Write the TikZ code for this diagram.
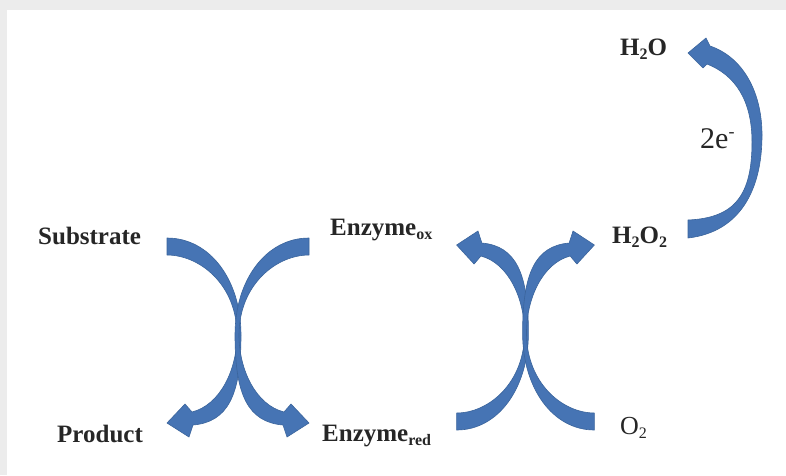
\documentclass[tikz,border=0pt]{standalone}
\usepackage{fontspec}
\setmainfont{Liberation Serif}
\definecolor{arrowblue}{RGB}{70,116,180}
\definecolor{arrowedge}{RGB}{58,100,156}
\definecolor{txt}{RGB}{38,38,38}
\definecolor{frame}{RGB}{236,236,236}
\newcommand{\lsub}[1]{\raisebox{-4pt}{\fontsize{16}{18}\selectfont #1}}
\newcommand{\bandApath}{(-71,-97) .. controls (-28,-97) and (3,-55) .. (3,0)
  .. controls (3,60) and (-10,87) .. (-45,90) -- (-49,102) -- (-71,88) -- (-53,69) -- (-46,77)
  .. controls (-18,70) and (-1,35) .. (-1,0)
  .. controls (-1,-50) and (-38,-80) .. (-71,-80) -- cycle}
\tikzset{
  blockarrow/.style={fill=arrowblue, draw=arrowedge, line width=0.6pt, line join=round},
  lbl/.style={inner sep=0pt, anchor=base west, text=txt, font=\fontsize{25}{30}\selectfont\bfseries},
  rlbl/.style={inner sep=0pt, anchor=base west, text=txt, font=\fontsize{26}{30}\selectfont},
  elbl/.style={inner sep=0pt, anchor=base west, text=txt, font=\fontsize{30}{34}\selectfont}
}
\begin{document}
\begin{tikzpicture}[x=1pt,y=-1pt]
\useasboundingbox (0,0) rectangle (786,475);
\fill[frame] (0,0) rectangle (786,475);
\fill[white] (7,10) rectangle (786,475);

% left cross: Substrate -> Product, Enzyme_ox side -> Enzyme_red
\begin{scope}[shift={(238,335)}]
  \draw[blockarrow] \bandApath;
  \begin{scope}[xscale=-1]
    \draw[blockarrow] \bandApath;
  \end{scope}
\end{scope}

% right cross: Enzyme_red -> Enzyme_ox, O2 -> H2O2
\begin{scope}[shift={(525.5,333)}, yscale=-1, xscale=0.97]
  \draw[blockarrow] \bandApath;
  \begin{scope}[xscale=-1]
    \draw[blockarrow] \bandApath;
  \end{scope}
\end{scope}

% H2O2 -> H2O arc
\draw[blockarrow] (688,238) .. controls (740,232) and (762,190) .. (762,135)
  .. controls (762,95) and (745,58) .. (710,46) -- (706,38) -- (688,53) -- (703,68) -- (707,64)
  .. controls (735,75) and (752,100) .. (752,142)
  .. controls (752,195) and (735,218) .. (688,220) -- cycle;

\node[lbl] (sub) at (38,244) {Substrate};
\node[lbl] (prod) at (57,442) {Product};
\node[lbl] (eox) at (330,235) {Enzyme\lsub{ox}};
\node[lbl] (ered) at (322,441) {Enzyme\lsub{red}};
\node[lbl] (h2o) at (620,55) {H\lsub{2}O};
\node[lbl] (h2o2) at (612,243) {H\lsub{2}O\lsub{2}};
\node[rlbl] (o2) at (620,434) {O\lsub{2}};
\node[elbl] (e2) at (700,148) {2e\raisebox{11pt}{\fontsize{18}{20}\selectfont -}};
\end{tikzpicture}
\end{document}
